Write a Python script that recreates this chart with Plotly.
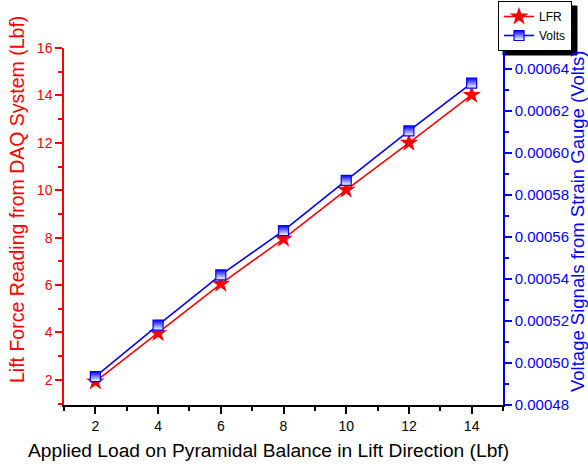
import plotly.graph_objects as go

# ---- data ----
applied_load = [2, 4, 6, 8, 10, 12, 14]
lfr = [1.93, 3.97, 6.05, 7.95, 10.02, 12.0, 14.02]
volts = [0.0004935, 0.000518, 0.000542, 0.000563, 0.000587, 0.0006105, 0.0006333]

x_title = "Applied Load on Pyramidal Balance in Lift Direction (Lbf)"
y_title = "Lift Force Reading from DAQ System (Lbf)"
y2_title = "Voltage Signals from Strain Gauge (Volts)"

W, H = 588, 468
ML, MR, MT, MB = 64, 85, 48, 63
PW, PH = W - ML - MR, H - MT - MB


def px(x):
    return (x - ML) / PW


def py(y):
    return (H - MB - y) / PH


FONT = "Liberation Sans, Arial, sans-serif"

fig = go.Figure()
fig.add_trace(go.Scatter(
    x=applied_load, y=lfr, name="LFR", mode="lines+markers",
    line=dict(color="#ff0000", width=1.6),
    marker=dict(symbol="star", size=14, color="#ff0000", line=dict(width=0)),
    yaxis="y",
))
fig.add_trace(go.Scatter(
    x=applied_load, y=volts, name="Volts", mode="lines+markers",
    line=dict(color="#0000ff", width=1.6),
    marker=dict(symbol="square", size=10, color="#0000ff",
                gradient=dict(type="vertical", color="#ffffff"),
                line=dict(color="#0000ff", width=1.2)),
    yaxis="y2",
))

fig.update_layout(
    width=W, height=H,
    margin=dict(l=ML, r=MR, t=MT, b=MB, autoexpand=False),
    paper_bgcolor="white", plot_bgcolor="white",
    font=dict(family=FONT, size=14, color="black"),
    showlegend=True,
    legend=dict(
        x=px(498), y=py(1), xanchor="left", yanchor="top",
        bgcolor="white", bordercolor="black", borderwidth=1,
        font=dict(family=FONT, size=12, color="black"),
        tracegroupgap=0,
    ),
    xaxis=dict(
        range=[1, 15], dtick=2, tick0=0,
        showgrid=False, zeroline=False,
        showline=True, linecolor="black", linewidth=1.5,
        ticks="outside", ticklen=7, tickwidth=1.5, tickcolor="black",
        minor=dict(ticks="outside", ticklen=4, dtick=1, tick0=1, tickcolor="black", tickwidth=1.5),
        tickfont=dict(family=FONT, size=14, color="black"),
    ),
    xaxis2=dict(
        range=[1, 15], dtick=2, tick0=0, overlaying="x", side="top", anchor="y",
        showgrid=False, zeroline=False, showticklabels=False,
        showline=True, linecolor="black", linewidth=1.5,
        ticks="inside", ticklen=7, tickwidth=1.5, tickcolor="black",
        minor=dict(ticks="inside", ticklen=4, dtick=1, tick0=1, tickcolor="black", tickwidth=1.5),
    ),
    yaxis=dict(
        range=[0.94, 16], dtick=2, tick0=0,
        showgrid=False, zeroline=False,
        showline=True, linecolor="#ff0000", linewidth=1.5,
        ticks="outside", ticklen=7, tickwidth=1.5, tickcolor="#ff0000",
        minor=dict(ticks="outside", ticklen=4, dtick=1, tick0=1, tickcolor="#ff0000", tickwidth=1.5),
        tickfont=dict(family=FONT, size=14, color="#ff0000"),
    ),
    yaxis2=dict(
        range=[0.00048, 0.00065], dtick=0.00002, tick0=0.00048,
        overlaying="y", side="right", anchor="x",
        showgrid=False, zeroline=False,
        showline=True, linecolor="#0000ff", linewidth=1.5,
        ticks="outside", ticklen=7, tickwidth=1.5, tickcolor="#0000ff",
        minor=dict(ticks="outside", ticklen=4, dtick=0.00001, tick0=0.00049, tickcolor="#0000ff", tickwidth=1.5),
        tickformat=".5f",
        tickfont=dict(family=FONT, size=15, color="#0000ff"),
    ),
    annotations=[
        dict(text=x_title, xref="paper", yref="paper", x=px(268), y=py(450),
             xanchor="center", yanchor="middle", showarrow=False,
             font=dict(family=FONT, size=19.2, color="black")),
        dict(text=y_title, xref="paper", yref="paper", x=px(17), y=py(200),
             xanchor="center", yanchor="middle", showarrow=False, textangle=-90,
             font=dict(family=FONT, size=19.5, color="#ff0000")),
        dict(text=y2_title, xref="paper", yref="paper", x=px(577), y=py(222),
             xanchor="center", yanchor="middle", showarrow=False, textangle=-90,
             font=dict(family=FONT, size=18.5, color="#0000ff")),
    ],
)
# legend drop shadow
fig.add_shape(type="rect", xref="x domain", yref="y domain",
              x0=px(503), x1=px(577), y0=py(55), y1=py(6),
              fillcolor="black", line=dict(color="black", width=1),
              layer="below")

fig.write_html("out.html")
